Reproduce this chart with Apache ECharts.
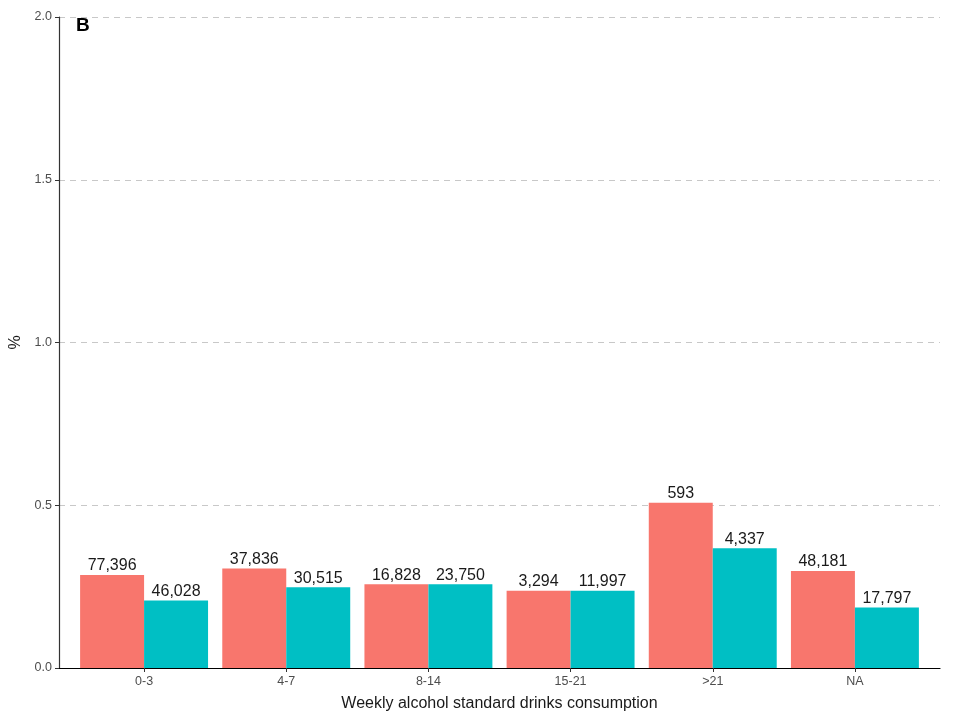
<!DOCTYPE html>
<html>
<head>
<meta charset="utf-8">
<script src="https://cdn.jsdelivr.net/npm/echarts@6/dist/echarts.min.js"></script>
<style>
  html, body { margin: 0; padding: 0; background: #fff; }
  #chart { width: 960px; height: 717px; }
</style>
</head>
<body>
<div id="chart"></div>
<script>
// Weekly alcohol consumption groups
const categories = ['0-3', '4-7', '8-14', '15-21', '>21', 'NA'];
// Percentage per group, two series
const pctRed  = [0.286, 0.306, 0.257, 0.237, 0.508, 0.298];
const pctTeal = [0.207, 0.248, 0.257, 0.237, 0.368, 0.186];
// Counts shown above the bars
const countRed  = ['77,396', '37,836', '16,828', '3,294', '593', '48,181'];
const countTeal = ['46,028', '30,515', '23,750', '11,997', '4,337', '17,797'];
const yTicks = [0, 0.5, 1.0, 1.5, 2.0];

const FONT = 'Liberation Sans, Arial, sans-serif';
const chart = echarts.init(document.getElementById('chart'));

function labelFor(counts) {
  return {
    show: true, position: 'top', distance: 1,
    fontFamily: FONT, fontSize: 16, color: '#1a1a1a',
    formatter: p => counts[p.dataIndex]
  };
}

chart.setOption({
  animation: false,
  grid: [
    // frame grid: axis lines and dashed gridlines over the full panel
    { left: 59, right: 20, top: 17, bottom: 49, containLabel: false, outerBoundsMode: 'none' },
    // bar grid: inset so the category bands leave padding at both ends
    { left: 73, right: 34, top: 17, bottom: 49, containLabel: false, outerBoundsMode: 'none' }
  ],
  xAxis: [
    {
      gridIndex: 0, type: 'value', min: 0, max: 1,
      axisLine: { show: true, onZero: false, lineStyle: { color: '#000', width: 1.2 } },
      axisTick: { show: false }, axisLabel: { show: false }, splitLine: { show: false }
    },
    {
      gridIndex: 1, type: 'category', data: categories,
      axisLine: { show: false },
      axisTick: { show: true, alignWithLabel: true, length: 4, lineStyle: { color: '#333' } },
      axisLabel: { fontFamily: FONT, fontSize: 12.5, color: '#4d4d4d', margin: 7 },
      name: 'Weekly alcohol standard drinks consumption',
      nameLocation: 'middle', nameGap: 28,
      nameTextStyle: { fontFamily: FONT, fontSize: 16, color: '#1a1a1a' }
    }
  ],
  yAxis: [
    {
      gridIndex: 0, type: 'value', min: 0, max: 2, interval: 0.5,
      axisLine: { show: true, lineStyle: { color: '#333', width: 1.2 } },
      axisTick: { show: true, length: 4, lineStyle: { color: '#333' } },
      axisLabel: {
        fontFamily: FONT, fontSize: 12.5, color: '#4d4d4d', margin: 7,
        formatter: v => yTicks.includes(v) ? v.toFixed(1) : ''
      },
      splitLine: { show: true, lineStyle: { color: '#c8c8c8', type: [6, 5], width: 1 } },
      name: '%', nameLocation: 'middle', nameGap: 32, nameRotate: 90,
      nameTextStyle: { fontFamily: FONT, fontSize: 16, color: '#1a1a1a' }
    },
    {
      gridIndex: 1, type: 'value', min: 0, max: 2, interval: 0.5,
      axisLine: { show: false }, axisTick: { show: false },
      axisLabel: { show: false }, splitLine: { show: false }
    }
  ],
  series: [
    {
      type: 'bar', xAxisIndex: 1, yAxisIndex: 1, data: pctRed,
      barWidth: '45%', barGap: '0%',
      itemStyle: { color: '#F8766D' }, label: labelFor(countRed)
    },
    {
      type: 'bar', xAxisIndex: 1, yAxisIndex: 1, data: pctTeal,
      barWidth: '45%', barGap: '0%',
      itemStyle: { color: '#00BFC4' }, label: labelFor(countTeal)
    }
  ],
  graphic: [
    {
      type: 'text', left: 76, top: 16,
      style: { text: 'B', fontFamily: FONT, fontSize: 19, fontWeight: 'bold', fill: '#000' }
    }
  ]
});
</script>
</body>
</html>
